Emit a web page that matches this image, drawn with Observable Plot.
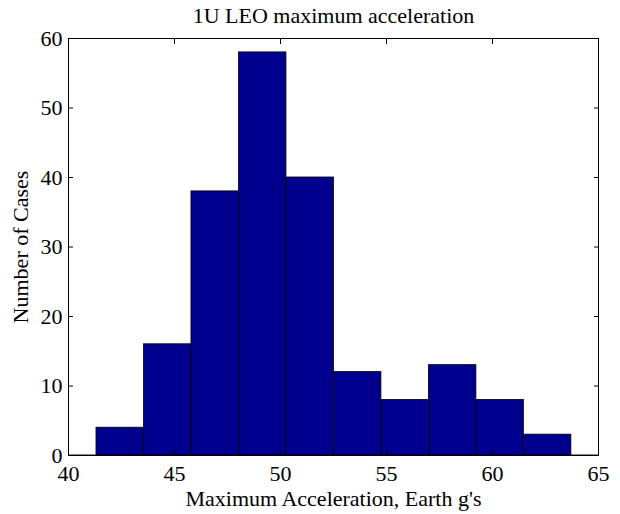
<!DOCTYPE html>
<html>
<head>
<meta charset="utf-8">
<script src="https://cdn.jsdelivr.net/npm/d3@7"></script>
<script src="https://cdn.jsdelivr.net/npm/@observablehq/plot@0.6"></script>
<style>
  html, body { margin: 0; padding: 0; background: #fff; }
  svg { display: block; }
</style>
</head>
<body>
<div id="chart"></div>
<script>
// Histogram bins (edges, Earth g's) and case counts
const binLower = [41.32, 43.56, 45.80, 48.04, 50.28, 52.52, 54.76, 57.00, 59.24, 61.48];
const binUpper = [43.56, 45.80, 48.04, 50.28, 52.52, 54.76, 57.00, 59.24, 61.48, 63.72];
const counts   = [4, 16, 38, 58, 40, 12, 8, 13, 8, 3];

const xTicks = [40, 45, 50, 55, 60, 65];
const yTicks = [0, 10, 20, 30, 40, 50, 60];

const titleText = "1U LEO maximum acceleration";
const xLabel = "Maximum Acceleration, Earth g's";
const yLabel = "Number of Cases";

const bins = counts.map((c, i) => ({x1: binLower[i], x2: binUpper[i], count: c}));

const font = "'Liberation Serif', 'Times New Roman', serif";

const chart = Plot.plot({
  width: 620,
  height: 514,
  marginLeft: 68,
  marginRight: 22,
  marginTop: 38,
  marginBottom: 59,
  style: {fontFamily: font, fontSize: "22px", color: "#000", background: "#fff"},
  x: {domain: [40, 65]},
  y: {domain: [0, 60]},
  marks: [
    // bar baseline
    Plot.ruleY([0], {stroke: "#8c8c8c", strokeWidth: 1, dy: -1}),
    Plot.rectY(bins, {x1: "x1", x2: "x2", y: "count", fill: "#00008f", stroke: "#000", strokeWidth: 0.8}),
    Plot.frame({stroke: "#000", strokeWidth: 1}),
    Plot.axisX({ticks: xTicks, tickSize: -5, tickPadding: 15, tickFormat: d3.format("d"),
      fontSize: 22, label: null}),
    Plot.axisX({ticks: [], label: xLabel, labelAnchor: "center", labelOffset: 50, labelArrow: false, fontSize: 22}),
    Plot.axisX({anchor: "top", ticks: xTicks, tickSize: -5, tickFormat: () => "", label: null}),
    Plot.axisY({ticks: yTicks, tickSize: -5, tickPadding: 11, tickFormat: d3.format("d"),
      fontSize: 22, label: yLabel, labelAnchor: "center", labelOffset: 56, labelArrow: false}),
    Plot.axisY({anchor: "right", ticks: yTicks, tickSize: -5, tickFormat: () => "", label: null}),
    Plot.text([titleText], {frameAnchor: "top", dy: -31, fontSize: 22, text: d => d})
  ]
});

document.getElementById("chart").appendChild(chart);
</script>
</body>
</html>
